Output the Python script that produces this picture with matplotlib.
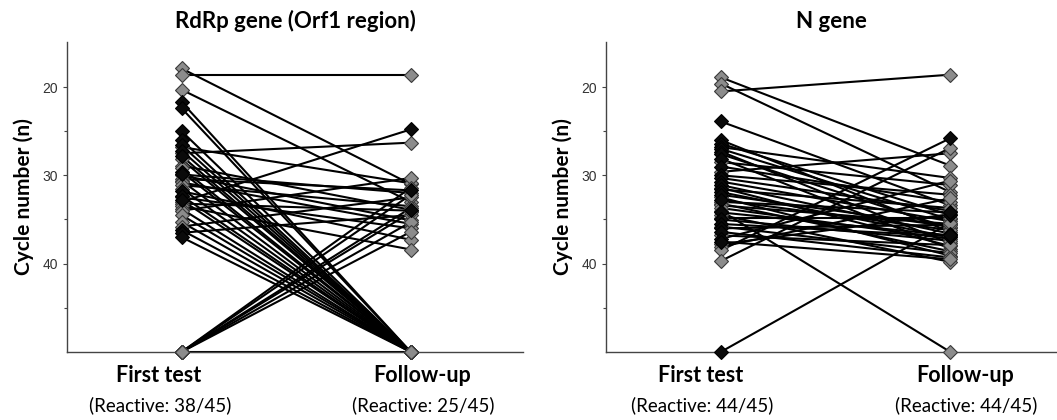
import numpy as np
import matplotlib.pyplot as plt

# Ct values; 50 = not reactive (drawn on the baseline)
rdrp_first = [17.9, 18.6, 20.3, 21.7, 22.4, 25.0, 26.0, 26.6, 26.8, 27.2,
              27.5, 27.8, 28.2, 28.9, 29.2, 29.6, 29.9, 30.0, 30.4, 30.6,
              30.8, 31.1, 31.5, 31.8, 32.3, 32.5, 32.8, 33.0, 33.2, 33.5,
              33.8, 34.0, 34.5, 35.3, 35.8, 36.2, 36.5, 37.0,
              50, 50, 50, 50, 50, 50, 50]
rdrp_follow = [31.0, 18.6, 33.0, 50, 50, 50, 50, 50, 30.9, 50,
               26.3, 50, 50, 33.9, 50, 50, 32.0, 35.1, 31.7, 50,
               35.5, 33.5, 50, 37.3, 50, 36.0, 50, 24.8, 34.0, 38.4,
               50, 30.3, 50, 50, 32.5, 50, 34.5, 50,
               31.4, 32.2, 33.7, 34.2, 35.3, 36.4, 50]
rdrp_first_dark = [0, 0, 0, 1, 1, 1, 1, 1, 0, 1,
                   0, 1, 0, 0, 0, 1, 1, 0, 0, 0,
                   0, 0, 0, 1, 1, 0, 1, 0, 0, 0,
                   0, 0, 0, 0, 0, 1, 1, 1,
                   0, 0, 0, 0, 0, 0, 0]
rdrp_follow_dark = [0, 0, 0, 0, 0, 0, 0, 0, 0, 0,
                    0, 0, 0, 1, 0, 0, 0, 0, 1, 0,
                    0, 0, 0, 0, 0, 0, 0, 1, 0, 0,
                    0, 0, 0, 0, 0, 0, 0, 0,
                    0, 0, 0, 0, 0, 0, 0]

n_first = [18.9, 19.6, 20.5, 23.9, 26.0, 26.4, 26.8, 27.0, 27.3, 27.6,
           28.1, 28.5, 29.0, 29.6, 30.0, 30.3, 30.7, 31.1, 31.4, 31.6,
           31.9, 32.2, 32.5, 32.8, 33.0, 33.2, 33.4, 33.7, 34.0, 34.2,
           34.5, 34.8, 35.0, 35.5, 35.8, 36.0, 36.4, 36.8, 37.2, 37.5,
           37.8, 38.1, 38.5, 39.7, 50]
n_follow = [28.9, 31.9, 18.6, 33.4, 36.4, 34.5, 30.3, 35.0, 37.7, 36.0,
            38.3, 31.1, 33.0, 27.5, 32.2, 34.0, 35.2, 36.6, 38.0, 33.7,
            37.0, 35.8, 39.1, 36.2, 34.2, 38.6, 35.5, 37.2, 50, 36.8,
            39.8, 34.8, 37.4, 36.9, 38.8, 35.6, 39.3, 37.9, 30.6, 39.5,
            34.4, 32.6, 25.8, 26.9, 35.4]
n_first_dark = [0, 0, 0, 1, 1, 1, 1, 1, 1, 1,
                1, 0, 1, 0, 1, 1, 1, 1, 0, 1,
                1, 1, 0, 1, 0, 0, 0, 0, 0, 1,
                0, 0, 1, 1, 0, 1, 1, 0, 1, 1,
                0, 0, 0, 0, 1]
n_follow_dark = [0, 0, 0, 0, 0, 1, 0, 0, 0, 0,
                 0, 0, 0, 0, 0, 0, 0, 1, 0, 0,
                 1, 0, 0, 0, 1, 0, 0, 0, 0, 1,
                 0, 0, 0, 0, 0, 0, 0, 0, 0, 0,
                 0, 0, 1, 0, 0]

panels = [
    ('RdRp gene (Orf1 region)', rdrp_first, rdrp_follow, rdrp_first_dark, rdrp_follow_dark,
     'Reactive: 38/45', 'Reactive: 25/45'),
    ('N gene', n_first, n_follow, n_first_dark, n_follow_dark,
     'Reactive: 44/45', 'Reactive: 44/45'),
]

fig = plt.figure(figsize=(10.57, 4.2), dpi=100)
axes = [fig.add_axes([0.0634, 0.162, 0.4314, 0.738]),
        fig.add_axes([0.5733, 0.162, 0.4267, 0.738])]
xmax = [1.49, 1.465]
lab_x = [(-0.10, 1.05), (-0.087, 1.065)]

for ax, (title, first, follow, fd, ud, r1, r2), xm, lx in zip(axes, panels, xmax, lab_x):
    for f, u in zip(first, follow):
        ax.plot([0, 1], [f, u], color='black', lw=1.5, zorder=2, clip_on=False)
    for x, vals, dark in [(0, first, fd), (1, follow, ud)]:
        vals = np.array(vals)
        dark = np.array(dark, dtype=bool)
        ax.plot(np.full((~dark).sum(), x), vals[~dark], 'D', ms=7.5, mfc='#8c8c8c',
                mec='#3a3a3a', mew=0.8, zorder=3, clip_on=False)
        ax.plot(np.full(dark.sum(), x), vals[dark], 'D', ms=7.5, mfc='#0a0a0a',
                mec='black', mew=0.8, zorder=4, clip_on=False)

    ax.set_xlim(-0.5, xm)
    ax.set_ylim(50, 14.9)
    ax.set_yticks([20, 30, 40])
    ax.set_yticks([25, 35, 45], minor=True)
    ax.set_xticks([])
    ax.tick_params(axis='y', which='major', length=3, width=0.8, color='#444',
                   labelsize=10, labelcolor='#333')
    ax.tick_params(axis='y', which='minor', length=2, width=0.8, color='#444')
    for lab in ax.get_yticklabels():
        lab.set_family('Liberation Sans')
    for s in ['top', 'right']:
        ax.spines[s].set_visible(False)
    for s in ['left', 'bottom']:
        ax.spines[s].set_color('#444')
        ax.spines[s].set_linewidth(1.0)
    ax.set_title(title, fontsize=16, fontweight='bold', family='Lato', pad=10)
    ax.set_ylabel('Cycle number (n)', fontsize=15, fontweight='bold', family='Lato', labelpad=6)

    tr = ax.get_xaxis_transform()
    ax.text(lx[0], -0.075, 'First test', transform=tr, ha='center', va='center',
            fontsize=15.5, fontweight='bold', family='Lato')
    ax.text(lx[1], -0.075, 'Follow-up', transform=tr, ha='center', va='center',
            fontsize=15.5, fontweight='bold', family='Lato')
    ax.text(lx[0] + 0.005, -0.172, '(' + r1 + ')', transform=tr, ha='center', va='center',
            fontsize=13.5, family='Lato')
    ax.text(lx[1] + 0.005, -0.172, '(' + r2 + ')', transform=tr, ha='center', va='center',
            fontsize=13.5, family='Lato')

fig.savefig('out.png', dpi=100)
